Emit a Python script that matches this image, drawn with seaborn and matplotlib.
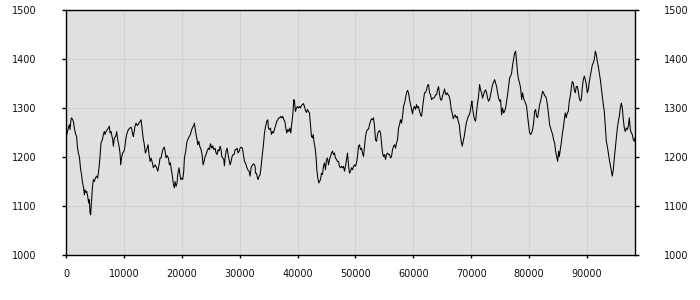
import numpy as np
import pandas as pd
import matplotlib
matplotlib.use("Agg")
import matplotlib.pyplot as plt
import seaborn as sns

x_vals = [0, 403, 576, 691, 864, 980, 1152, 1268, 1440, 1671, 1844, 1959, 2132, 2305, 2535, 2651, 2823, 2996,
          3111, 3169, 3284, 3457, 3572, 3745, 3918, 4033, 4149, 4264, 4379, 4437, 4552, 4725, 4898, 5071, 5301,
          5474, 5704, 5877, 6050, 6281, 6453, 6626, 6742, 6914, 7145, 7318, 7491, 7606, 7779, 8067, 8182, 8355,
          8586, 8758, 8931, 9162, 9334, 9450, 9623, 9795, 10026, 10141, 10314, 10487, 10775, 11063, 11236, 11351,
          11524, 11639, 11927, 12100, 12331, 12792, 12965, 13137, 13368, 13483, 13714, 13944, 14175, 14348, 14520,
          14693, 14924, 15096, 15385, 15673, 15846, 16076, 16249,
          16422, 16653, 16826, 16998, 17114, 17286, 17459, 17690, 17863, 18036, 18151, 18381, 18554, 18727, 18842,
          19015, 19188, 19303, 19534, 19649, 19822, 19995, 20167, 20340, 20456, 20686, 20859, 21032, 21147, 21320,
          21493, 21723, 21896, 22069, 22184, 22299, 22472, 22645, 22760, 22933, 23106, 23337, 23509, 23682, 23855,
          24028, 24201, 24374, 24604, 24777, 24950, 25180, 25353, 25526, 25757, 25929, 26102, 26275, 26448, 26621,
          26794, 26909, 27082, 27255, 27370, 27485, 27658, 27831, 28004, 28177, 28350, 28522, 28695, 28868, 29041,
          29214, 29387, 29560, 29732, 29905, 30078, 30251, 30481, 30654, 30827, 31000, 31173, 31403, 31634, 31807,
          31980, 32210, 32441, 32671,
          32728, 32901, 33074, 33189, 33362, 33535, 33707, 33880, 34111, 34284, 34457, 34687, 34860, 34975, 35148,
          35321, 35494, 35667, 35839, 36012, 36185, 36416, 36588, 36761, 36934, 37107, 37280, 37453, 37626, 37798,
          37971, 38144, 38317, 38490, 38663, 38836, 39009, 39181, 39354, 39469, 39642, 39815, 39988, 40161, 40334,
          40507, 40679, 40852, 41025, 41198, 41371, 41544, 41717, 41890, 42062, 42235, 42408, 42581, 42696, 42869,
          43042, 43215, 43330, 43503, 43676, 43791, 43964, 44137, 44310, 44482, 44655, 44828, 45001, 45174, 45347,
          45520, 45693, 45865, 46038, 46211, 46384, 46557, 46730, 46903, 47076, 47248, 47421, 47594, 47767, 47940,
          48113, 48286, 48458, 48631, 48804, 48977,
          49150, 49323, 49496, 49669, 49841, 50014, 50187, 50360, 50533, 50706, 50879, 51051, 51224, 51397, 51570,
          51743, 51916, 52089, 52261, 52434, 52607, 52780, 52953, 53126, 53299, 53471, 53644, 53817, 53990, 54163,
          54336, 54509, 54681, 54854, 55027, 55200, 55373, 55546, 55719, 55891, 56064, 56237, 56410, 56583, 56756,
          56929, 57101, 57274, 57447, 57620, 57793, 57966, 58139, 58311, 58484, 58657, 58830, 59003, 59176, 59349,
          59521, 59694, 59867, 60040, 60213, 60386, 60559, 60731, 60904, 61077, 61250, 61423, 61596, 61769, 61941,
          62114, 62287, 62460, 62633, 62806, 62979, 63151, 63324, 63497, 63670, 63843, 64016, 64189, 64361, 64534,
          64707, 64880, 65053, 65226, 65399,
          65514, 65687, 65860, 66033, 66206, 66379, 66551, 66724, 66897, 67070, 67243, 67416, 67589, 67761, 67934,
          68107, 68280, 68453, 68626, 68799, 68972, 69144, 69317, 69490, 69663, 69836, 70009, 70124, 70239, 70412,
          70585, 70758, 70931, 71103, 71276, 71449, 71622, 71795, 71968, 72141, 72313, 72486, 72659, 72832, 73005,
          73178, 73351, 73523, 73696, 73869, 74042, 74215, 74388, 74561, 74733, 74906, 75079, 75252, 75425, 75598,
          75771, 75943, 76116, 76289, 76462, 76635, 76808, 76981, 77153, 77326, 77499, 77672, 77845, 78018, 78191,
          78363, 78536, 78709, 78882, 79055, 79228, 79401, 79573, 79746, 79919, 80092, 80265, 80438, 80611, 80783,
          80956, 81129, 81302, 81475, 81648, 81821,
          81993, 82166, 82339, 82512, 82684, 82857, 83030, 83203, 83376, 83549, 83722, 83894, 84067, 84240, 84413,
          84586, 84759, 84932, 85104, 85220, 85393, 85565, 85738, 85911, 86084, 86257, 86430, 86603, 86775, 86948,
          87121, 87294, 87467, 87640, 87813, 87985, 88158, 88331, 88504, 88677, 88850, 89023, 89195, 89368, 89541,
          89714, 89887, 90060, 90233, 90405, 90578, 90751, 90924, 91097, 91270, 91443, 91616, 91789, 91961, 92134,
          92307, 92480, 92653, 92826, 92999, 93171, 93344, 93517, 93690, 93863, 94036, 94209, 94381, 94554, 94727,
          94900, 95073, 95246, 95419, 95591, 95764, 95937, 96110, 96283, 96456, 96629, 96801, 96974, 97147, 97320,
          97493, 97666, 97839, 98012, 98185, 98300]

y_vals = [1239, 1259, 1266, 1256, 1276, 1280, 1276, 1273, 1259, 1246, 1242, 1222, 1208, 1201, 1174, 1167, 1150, 1140,
          1130, 1123, 1133, 1127, 1130, 1120, 1106, 1113, 1086, 1082, 1106, 1113, 1137, 1154, 1150, 1157, 1161,
          1157, 1178, 1201, 1229, 1235, 1246, 1252, 1246, 1252, 1256, 1259, 1263, 1249, 1252, 1235, 1222, 1239,
          1242, 1252, 1235, 1222, 1208, 1184, 1201, 1208, 1212, 1218, 1235, 1246, 1256, 1259, 1261, 1257,
          1246, 1242, 1263, 1269, 1264, 1273, 1276, 1259, 1235, 1229, 1208, 1215, 1225, 1205, 1191,
          1198, 1188, 1178, 1184, 1178, 1171, 1184, 1198,
          1198, 1212, 1218, 1220, 1212, 1198, 1203, 1198, 1184, 1188, 1178, 1161, 1144, 1137, 1150,
          1140, 1147, 1164, 1178, 1167, 1154, 1157, 1154, 1171, 1198, 1212, 1229, 1235, 1239, 1242,
          1246, 1256, 1261, 1264, 1269, 1259, 1246, 1235, 1225, 1232, 1222, 1215, 1205, 1184, 1191,
          1201, 1205, 1212, 1218, 1215, 1227, 1218, 1223, 1215, 1218, 1208, 1205, 1215, 1212, 1222,
          1215, 1201, 1198, 1195, 1182, 1198, 1212, 1218, 1205, 1195, 1184, 1191, 1201, 1205, 1205,
          1215, 1215, 1218, 1208, 1212, 1218, 1220, 1218, 1205, 1191, 1188, 1181, 1174, 1171, 1161,
          1178, 1184, 1186, 1181,
          1167, 1167, 1157, 1154, 1161, 1164, 1181, 1201, 1225, 1249, 1261, 1273, 1276, 1259, 1256,
          1259, 1246, 1252, 1249, 1256, 1263, 1273, 1276, 1280, 1280, 1283, 1280, 1283, 1276, 1273,
          1259, 1249, 1256, 1252, 1259, 1249, 1269, 1286, 1317, 1314, 1293, 1300, 1303, 1300, 1303,
          1300, 1305, 1307, 1309, 1303, 1295, 1291, 1297, 1293, 1290, 1266, 1242, 1239, 1246, 1229,
          1218, 1198, 1174, 1157, 1147, 1150, 1154, 1167, 1164, 1181, 1188, 1174, 1195, 1198, 1184,
          1195, 1201, 1208, 1212, 1205, 1208, 1198, 1195, 1191, 1191, 1181, 1178, 1181, 1178, 1181,
          1171, 1181, 1195, 1208, 1184, 1167,
          1171, 1178, 1174, 1181, 1184, 1181, 1188, 1201, 1222, 1225, 1215, 1218, 1208, 1201, 1222,
          1242, 1252, 1256, 1257, 1266, 1273, 1278, 1276, 1280, 1263, 1235, 1232, 1246, 1252, 1254,
          1249, 1229, 1208, 1201, 1205, 1195, 1205, 1208, 1205, 1205, 1198, 1201, 1215, 1222, 1225,
          1218, 1229, 1235, 1259, 1266, 1276, 1269, 1283, 1303, 1310, 1320, 1331, 1336, 1331, 1317,
          1307, 1297, 1288, 1300, 1303, 1297, 1307, 1300, 1303, 1293, 1286, 1283, 1300, 1317, 1331,
          1332, 1337, 1346, 1348, 1331, 1327, 1317, 1320, 1320, 1322, 1327, 1327, 1337, 1344, 1327,
          1317, 1316, 1325, 1331, 1339,
          1331, 1327, 1331, 1327, 1324, 1314, 1297, 1290, 1278, 1283, 1286, 1280, 1283, 1273, 1266,
          1246, 1232, 1222, 1232, 1242, 1256, 1269, 1276, 1283, 1286, 1293, 1307, 1314, 1300, 1286,
          1276, 1273, 1293, 1310, 1324, 1348, 1337, 1331, 1320, 1327, 1334, 1337, 1331, 1320, 1314,
          1317, 1327, 1337, 1348, 1352, 1358, 1351, 1344, 1331, 1320, 1314, 1317, 1286, 1300, 1290,
          1293, 1300, 1314, 1327, 1344, 1361, 1365, 1371, 1388, 1399, 1412, 1416, 1395, 1371, 1358,
          1351, 1341, 1317, 1331, 1320, 1314, 1310, 1303, 1283, 1266, 1249, 1246, 1249, 1256, 1269,
          1293, 1297, 1283, 1280, 1293, 1307,
          1314, 1324, 1334, 1331, 1325, 1324, 1317, 1303, 1286, 1266, 1259, 1252, 1246, 1235, 1229,
          1212, 1201, 1191, 1212, 1201, 1215, 1229, 1246, 1259, 1276, 1290, 1280, 1290, 1293, 1314,
          1324, 1341, 1354, 1351, 1337, 1331, 1344, 1344, 1334, 1320, 1314, 1317, 1341, 1358, 1365,
          1358, 1348, 1331, 1337, 1354, 1365, 1375, 1388, 1392, 1399, 1416, 1409, 1395, 1385, 1371,
          1358, 1341, 1324, 1307, 1293, 1263, 1232, 1222, 1208, 1195, 1184, 1174, 1161, 1174, 1198,
          1218, 1239, 1259, 1273, 1283, 1300, 1310, 1300, 1276, 1259, 1252, 1259, 1256, 1263, 1280,
          1256, 1249, 1246, 1235, 1232, 1239]

x_ticks = [0, 10000, 20000, 30000, 40000, 50000, 60000, 70000, 80000, 90000]
y_ticks = [1000, 1100, 1200, 1300, 1400, 1500]

df = pd.DataFrame({"x": x_vals, "y": y_vals})

sns.set_theme(style="white")
plt.rcParams['font.family'] = ['DejaVu Sans']

fig = plt.figure(figsize=(7, 3), dpi=100)
ax = fig.add_axes([66 / 700, 45 / 300, (635 - 66) / 700, (255 - 10) / 300])
ax.set_facecolor("#e0e0e0")

sns.lineplot(data=df, x="x", y="y", ax=ax, color="black", linewidth=0.75, estimator=None, sort=False)

ax.set_xlim(0, 98300)
ax.set_ylim(1000, 1500)
ax.set_xticks(x_ticks)
ax.set_yticks(y_ticks)
ax.set_xticklabels([str(t) for t in x_ticks])
ax.set_yticklabels([str(t) for t in y_ticks])
ax.grid(True, color="#d2d2d2", linewidth=0.8)
ax.set_axisbelow(True)
ax.set_xlabel("")
ax.set_ylabel("")
for s in ax.spines.values():
    s.set_visible(True)
    s.set_color("black")
    s.set_linewidth(1.0)

ax.tick_params(axis="y", left=True, right=True, labelleft=True, labelright=True,
               direction="out", length=3, width=1, color="black", pad=18,
               labelsize=7, labelcolor="#111111")
ax.tick_params(axis="x", bottom=True, direction="out", length=2, width=1, color="black",
               pad=8, labelsize=7, labelcolor="#111111")

fig.savefig("out.png", dpi=100, facecolor="white")
